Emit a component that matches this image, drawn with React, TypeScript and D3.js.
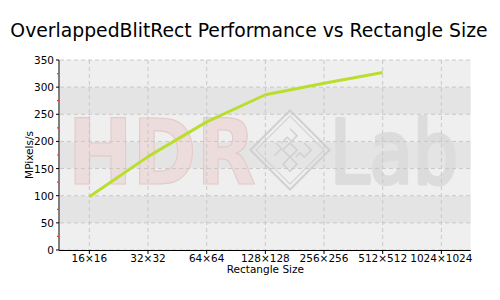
import React from "react";
import * as d3 from "d3";

const categories = ["16×16", "32×32", "64×64", "128×128", "256×256", "512×512", "1024×1024"];
const values: (number | null)[] = [98, 172, 236, 286, 307, 327, null];
const yTicks = [0, 50, 100, 150, 200, 250, 300, 350];
const title = "OverlappedBlitRect Performance vs Rectangle Size";
const xTitle = "Rectangle Size";
const yTitle = "MPixels/s";

const W = 500, H = 300;
const L = 60, R = 470.7, T = 60, B = 250;
const FONT = "'DejaVu Sans', Verdana, sans-serif";

export default function App() {
  const x = d3.scaleBand<string>().domain(categories).range([L, R]).padding(0);
  const y = d3.scaleLinear().domain([0, 350]).range([B, T]);
  const cx = (c: string) => (x(c) as number) + x.bandwidth() / 2;

  const pts = categories
    .map((c, i) => ({ c, v: values[i] }))
    .filter((d) => d.v !== null) as { c: string; v: number }[];
  const line = d3
    .line<{ c: string; v: number }>()
    .x((d) => cx(d.c))
    .y((d) => y(d.v));

  const bands = yTicks.slice(0, -1).map((t, i) => ({ lo: t, hi: yTicks[i + 1], dark: i % 2 === 1 }));
  const minor = yTicks.slice(0, -1).map((t) => t + 25);

  return (
    <svg width={W} height={H} style={{ display: "block", position: "absolute", left: 0, top: 0 }}>
      <rect x={0} y={0} width={W} height={H} fill="#fff" />
      <text x={249} y={37} textAnchor="middle" fontFamily={FONT} fontSize={18.8} fill="#000">
        {title}
      </text>
      {bands.map((b, i) => (
        <rect key={i} x={L} y={y(b.hi)} width={R - L} height={y(b.lo) - y(b.hi)} fill={b.dark ? "#e4e4e4" : "#efefef"} />
      ))}
      {/* watermark */}
      <g>
        <text x={68} y={184} fontFamily={FONT} fontWeight="bold" fontSize={90} fill="#eddcdc" stroke="#e4caca" strokeWidth={1.2} textLength={188} lengthAdjust="spacingAndGlyphs">
          HDR
        </text>
        <g transform="translate(290,150) rotate(45)" fill="none" stroke="#d0d0d0" strokeWidth={2}>
          <rect x={-28} y={-28} width={56} height={56} />
          <rect x={-24} y={-24} width={48} height={48} strokeWidth={1} />
          <path d="M-15,-15 h10 v8 h-6 v8 M5,-15 h10 v10 h-6 v6 M-15,5 h8 v10 M5,5 h10 v10 h-10 z M-5,-5 h10 v10 h-10 z" strokeWidth={1.5} />
        </g>
        <text x={330} y={183} fontFamily={FONT} fontSize={88} fill="#dcdcdc" stroke="#dcdcdc" strokeWidth={4} strokeLinejoin="round" textLength={128} lengthAdjust="spacingAndGlyphs">
          Lab
        </text>
      </g>
      {yTicks.map((t) => (
        <line key={"h" + t} x1={L} x2={R} y1={y(t)} y2={y(t)} stroke="#c8c8c8" strokeDasharray="4,3" />
      ))}
      {categories.map((c) => (
        <line key={"v" + c} x1={cx(c)} x2={cx(c)} y1={T} y2={B} stroke="#c8c8c8" strokeDasharray="4,3" />
      ))}
      <path d={line(pts) || ""} fill="none" stroke="#bade30" strokeWidth={3} strokeLinejoin="round" />
      {/* axes */}
      <line x1={L - 1} x2={L - 1} y1={T} y2={B} stroke="#000" />
      <line x1={L - 1} x2={R} y1={B + 0.5} y2={B + 0.5} stroke="#000" />
      {yTicks.map((t) => (
        <g key={"yt" + t}>
          <line x1={L - 4} x2={L - 1} y1={y(t)} y2={y(t)} stroke="#000" />
          <text x={L - 6} y={y(t) + 4} textAnchor="end" fontFamily={FONT} fontSize={10.5} fill="#000">
            {t}
          </text>
        </g>
      ))}
      {minor.map((t) => (
        <line key={"m" + t} x1={L - 3} x2={L - 1} y1={y(t)} y2={y(t)} stroke="#ff3030" strokeWidth={1.2} />
      ))}
      {categories.map((c) => (
        <g key={"xt" + c}>
          <line x1={cx(c)} x2={cx(c)} y1={B} y2={B + 4} stroke="#000" />
          <text x={cx(c)} y={B + 12} textAnchor="middle" fontFamily={FONT} fontSize={10.5} fill="#000">
            {c}
          </text>
        </g>
      ))}
      <text x={(L + R) / 2} y={B + 23} textAnchor="middle" fontFamily={FONT} fontSize={10.5} fill="#000">
        {xTitle}
      </text>
      <text transform={`translate(33,${(T + B) / 2}) rotate(-90)`} textAnchor="middle" fontFamily={FONT} fontSize={10.5} fill="#000">
        {yTitle}
      </text>
    </svg>
  );
}
